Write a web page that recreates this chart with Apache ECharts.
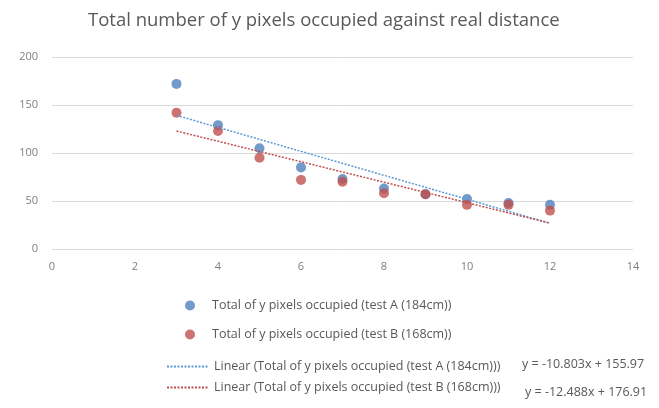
<!DOCTYPE html>
<html><head><meta charset="utf-8">
<script src="https://cdn.jsdelivr.net/npm/echarts@6/dist/echarts.min.js"></script>
<style>html,body{margin:0;padding:0;background:#fff}#c{width:659px;height:408px}</style>
</head><body><div id="c"></div>
<script>
var titleText = 'Total number of y pixels occupied against real distance';
var distances = [3,4,5,6,7,8,9,10,11,12];
var testA = [172,129,105,85,73,63,57,52,48,46];
var testB = [142,123,95,72,70,58,57,46,46,40];
var nameA = 'Total of y pixels occupied (test A (184cm))';
var nameB = 'Total of y pixels occupied (test B (168cm))';
var nameLA = 'Linear (Total of y pixels occupied (test A (184cm)))';
var nameLB = 'Linear (Total of y pixels occupied (test B (168cm)))';
var eqLabels = ['y = -10.803x + 155.97', 'y = -12.488x + 176.91'];
var xTicks = [0,2,4,6,8,10,12,14];
var yTicks = [0,50,100,150,200];

function fit(xs, ys){
  var n=xs.length, mx=0, my=0;
  for(var i=0;i<n;i++){mx+=xs[i];my+=ys[i];}
  mx/=n; my/=n;
  var sxy=0,sxx=0;
  for(var i=0;i<n;i++){sxy+=(xs[i]-mx)*(ys[i]-my);sxx+=(xs[i]-mx)*(xs[i]-mx);}
  var b=sxy/sxx; return {b:b,a:my-b*mx};
}
function trend(xs, ys){
  var f=fit(xs,ys), x0=xs[0], x1=xs[xs.length-1];
  return [[x0,f.a+f.b*x0],[x1,f.a+f.b*x1]];
}
var blue='#4f81bd', red='#c0504d';
var font='"Open Sans", "Noto Sans", sans-serif';
var chart = echarts.init(document.getElementById('c'));
chart.setOption({
  animation:false,
  title:{text:titleText,left:83,top:6,textStyle:{fontFamily:font,fontSize:18.5,fontWeight:'normal',color:'#595959'}},
  grid:{left:52,right:26,top:57,bottom:159,containLabel:false},
  xAxis:{type:'value',min:xTicks[0],max:xTicks[xTicks.length-1],interval:2,
    axisLine:{show:false},axisTick:{show:false},splitLine:{show:false},
    axisLabel:{color:'#7f7f7f',fontFamily:font,fontSize:11,margin:12}},
  yAxis:{type:'value',min:yTicks[0],max:yTicks[yTicks.length-1],interval:50,
    axisLine:{show:false},axisTick:{show:false},
    splitLine:{lineStyle:{color:'#d9d9d9',width:1}},
    axisLabel:{color:'#7f7f7f',fontFamily:font,fontSize:11,margin:14}},
  legend:[
    {orient:'vertical',left:180,top:294,itemWidth:10,itemHeight:10,itemGap:16,
     data:[{name:nameA,icon:'circle'},{name:nameB,icon:'circle'}],
     textStyle:{color:'#595959',fontFamily:font,fontSize:12.5,padding:[0,0,0,12]}},
    {orient:'vertical',left:161,top:355,itemWidth:42,itemHeight:12,itemGap:8,
     itemStyle:{opacity:0},
     data:[nameLA,nameLB],
     textStyle:{color:'#595959',fontFamily:font,fontSize:12.5}}
  ],
  graphic:[
    {type:'text',left:522,top:358,style:{text:eqLabels[0],fill:'#595959',font:'12.5px '+font}},
    {type:'text',left:525,top:386,style:{text:eqLabels[1],fill:'#595959',font:'12.5px '+font}}
  ],
  series:[
    {name:nameLA,type:'line',data:trend(distances,testA),symbol:'none',z:3,
     lineStyle:{color:'#5b9bd5',width:1.5,type:[2,1.5]},itemStyle:{color:'#5b9bd5'}},
    {name:nameLB,type:'line',data:trend(distances,testB),symbol:'none',z:3,
     lineStyle:{color:'#c0504d',width:1.5,type:[2,1.5]},itemStyle:{color:'#c0504d'}},
    {name:nameA,type:'scatter',symbolSize:10,z:2,itemStyle:{color:blue},
     data:distances.map(function(x,i){return [x,testA[i]];})},
    {name:nameB,type:'scatter',symbolSize:10,z:2,itemStyle:{color:red},
     data:distances.map(function(x,i){return [x,testB[i]];})}
  ]
});
</script></body></html>
